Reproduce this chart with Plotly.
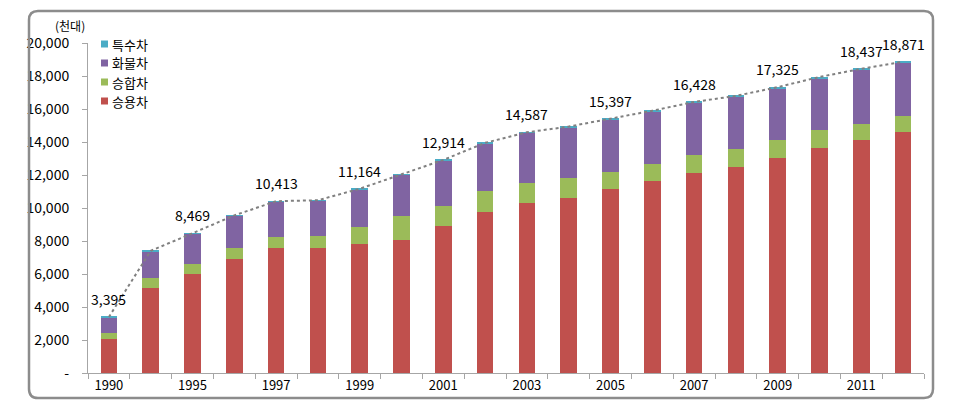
import plotly.graph_objects as go

years = ["1990", "1994", "1995", "1996", "1997", "1998", "1999", "2000", "2001", "2002",
         "2003", "2004", "2005", "2006", "2007", "2008", "2009", "2010", "2011", "2012"]
tick_labels = ["1990", "", "1995", "", "1997", "", "1999", "", "2001", "", "2003", "",
               "2005", "", "2007", "", "2009", "", "2011", ""]

passenger = [2075, 5149, 6006, 6894, 7587, 7580, 7837, 8084, 8889, 9737,
             10279, 10621, 11122, 11607, 12100, 12484, 13024, 13632, 14136, 14577]
van = [370, 580, 620, 700, 680, 720, 1010, 1410, 1240, 1310,
       1240, 1170, 1090, 1060, 1100, 1100, 1110, 1070, 970, 1000]
truck = [939, 1661, 1827, 1940, 2125, 2148, 2293, 2538, 2754, 2867,
         3028, 3099, 3136, 3175, 3171, 3151, 3129, 3174, 3261, 3221]
special = [11, 14, 16, 19, 21, 22, 24, 27, 31, 35,
           40, 44, 49, 53, 57, 59, 62, 65, 70, 73]
totals = [3395, 7404, 8469, 9553, 10413, 10470, 11164, 12059, 12914, 13949,
          14587, 14934, 15397, 15895, 16428, 16794, 17325, 17941, 18437, 18871]
labelled_years = ["1990", "1995", "1997", "1999", "2001", "2003", "2005",
                  "2007", "2009", "2011", "2012"]

series_names = ["승용차", "승합차", "화물차", "특수차"]
series_values = [passenger, van, truck, special]
colors = ["#C0504D", "#9BBB59", "#8064A2", "#4BACC6"]

FONT = "Noto Sans CJK KR"
W, H = 956, 411
L, R, T, B = 88, 32, 43, 38
PW, PH = W - L - R, H - T - B

fig = go.Figure()
for name, vals, col in zip(series_names, series_values, colors):
    fig.add_trace(go.Bar(x=years, y=vals, name=name, marker=dict(color=col, line=dict(width=0)),
                         showlegend=False))

fig.add_trace(go.Scatter(x=years, y=totals, mode="lines",
                         line=dict(color="#808080", width=2, dash="dot"),
                         showlegend=False, hoverinfo="skip"))

annotations = []
for i, (yr, tot) in enumerate(zip(years, totals)):
    if yr in labelled_years:
        annotations.append(dict(x=i, y=tot, xref="x", yref="y", text=f"{tot:,}",
                                showarrow=False, yanchor="bottom", yshift=6,
                                font=dict(family=FONT, size=14, color="#000000")))

def px2paper(px, py):
    return (px - L) / PW, (H - B - py) / PH

# unit label
ux, uy = px2paper(70, 25)
annotations.append(dict(x=ux, y=uy, xref="paper", yref="paper",
                        text="(천대)", showarrow=False, xanchor="center", yanchor="middle",
                        font=dict(family=FONT, size=12, color="#000000")))

shapes = []
# manual legend (top item is 특수차)
legend_order = list(zip(series_names, colors))[::-1]
for i, (name, col) in enumerate(legend_order):
    cy = 44 + i * 19
    x0, y0 = px2paper(101, cy - 3.5)
    x1, y1 = px2paper(108, cy + 3.5)
    shapes.append(dict(type="rect", xref="paper", yref="paper", x0=x0, x1=x1, y0=y1, y1=y0,
                       fillcolor=col, line=dict(width=0)))
    tx, ty = px2paper(110, cy)
    annotations.append(dict(x=tx, y=ty, xref="paper", yref="paper", text=name, showarrow=False,
                            xanchor="left", yanchor="middle",
                            font=dict(family=FONT, size=13, color="#000000")))

# rounded frame
fx0, fy0, fx1, fy1, rr = 29, 11, 933, 398, 9
def P(px, py):
    x, y = px2paper(px, py)
    return f"{x:.5f},{y:.5f}"
path = (f"M {P(fx0 + rr, fy0)} L {P(fx1 - rr, fy0)} Q {P(fx1, fy0)} {P(fx1, fy0 + rr)} "
        f"L {P(fx1, fy1 - rr)} Q {P(fx1, fy1)} {P(fx1 - rr, fy1)} "
        f"L {P(fx0 + rr, fy1)} Q {P(fx0, fy1)} {P(fx0, fy1 - rr)} "
        f"L {P(fx0, fy0 + rr)} Q {P(fx0, fy0)} {P(fx0 + rr, fy0)} Z")
shapes.append(dict(type="path", xref="paper", yref="paper", path=path,
                   line=dict(color="#8C8C8C", width=2.5), fillcolor="rgba(0,0,0,0)"))

yticks = list(range(0, 20001, 2000))
yticktext = ["-"] + [f"{v:,}" for v in yticks[1:]]

fig.update_layout(
    width=W, height=H,
    margin=dict(l=L, r=R, t=T, b=B, pad=0),
    barmode="stack", bargap=0.6,
    plot_bgcolor="white", paper_bgcolor="white",
    font=dict(family=FONT, size=14, color="#000000"),
    annotations=annotations, shapes=shapes,
    xaxis=dict(type="category", categoryorder="array", categoryarray=years,
               range=[-0.5, len(years) - 0.5],
               tickvals=years, ticktext=tick_labels, tickson="boundaries",
               ticks="outside", ticklen=5, tickcolor="#A6A6A6", showline=True,
               linecolor="#A6A6A6", linewidth=1, showgrid=False,
               tickfont=dict(family=FONT, size=13, color="#000000")),
    yaxis=dict(range=[0, 20000], tickvals=yticks, ticktext=yticktext, ticks="outside",
               ticklen=5, tickcolor="#A6A6A6", showline=True, linecolor="#A6A6A6",
               linewidth=1, showgrid=False, zeroline=False, ticklabelstandoff=10,
               tickfont=dict(family=FONT, size=14, color="#000000")),
)

fig.write_html("out.html", config={"displayModeBar": False},
               post_script="document.body.style.margin='0';document.body.style.overflow='hidden';")
